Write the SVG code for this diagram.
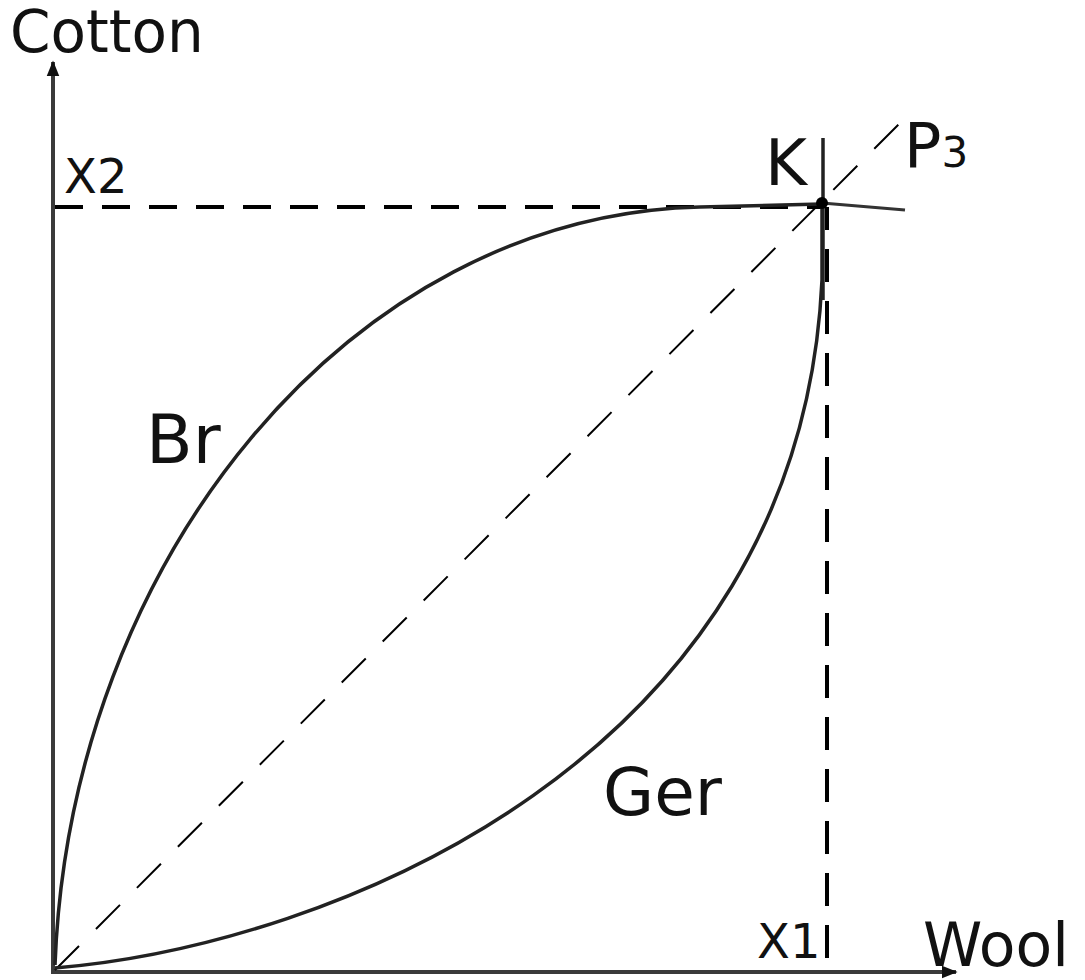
<svg xmlns="http://www.w3.org/2000/svg" width="1085" height="980" viewBox="0 0 1085 980">
<defs>
<style>
.lbl{font-family:"DejaVu Sans","Liberation Sans",sans-serif;fill:#111;}
.axis{stroke:#3a3a3a;stroke-width:4;fill:none;}
.dash{stroke:#000;stroke-width:4;fill:none;}
.curve{stroke:#222;stroke-width:3.5;fill:none;}
</style>
<marker id="arr" viewBox="0 0 10 10" refX="9" refY="5" markerWidth="4" markerHeight="5" orient="auto" markerUnits="strokeWidth">
<path d="M0,1 L10,5 L0,9 z" fill="#111"/>
</marker>
</defs>
<rect width="1085" height="980" fill="#fff"/>
<g id="axes">
<line class="axis" x1="53" y1="972" x2="53" y2="62" marker-end="url(#arr)"/>
<line class="axis" x1="51" y1="972" x2="956" y2="972" marker-end="url(#arr)"/>
</g>
<g id="guides">
<line class="dash" x1="55" y1="207" x2="822" y2="207" stroke-dasharray="28 19"/>
<line class="dash" x1="827" y1="207" x2="827" y2="972" stroke-dasharray="33 19" stroke-dashoffset="10"/>
<line x1="55" y1="970" x2="900" y2="123" stroke="#000" stroke-width="2" stroke-dasharray="34 24"/>
</g>
<g id="connectors">
<path id="br-curve" class="curve" d="M55,965 C70,560 350,215 700,207 L822,204"/>
<path id="ger-curve" class="curve" d="M55,968 C330,945 800,760 822,280 L822,204"/>
<line x1="823" y1="138" x2="823" y2="300" stroke="#222" stroke-width="3.5"/>
<line x1="822" y1="203" x2="905" y2="210" stroke="#333" stroke-width="3"/>
<circle cx="822" cy="203" r="6" fill="#000"/>
</g>
<g id="label-cotton"><text class="lbl" x="10" y="52" font-size="58">Cotton</text></g>
<g id="label-wool"><text class="lbl" x="923" y="966" font-size="60">Wool</text></g>
<g id="label-x2"><text class="lbl" x="64" y="193" font-size="48">X2</text></g>
<g id="label-x1"><text class="lbl" x="757" y="958" font-size="48">X1</text></g>
<g id="label-k"><text class="lbl" x="765" y="185" font-size="64">K</text></g>
<g id="label-p3"><text class="lbl" x="904" y="167" font-size="62">P<tspan font-size="42">3</tspan></text></g>
<g id="label-br"><text class="lbl" x="146" y="463" font-size="68">Br</text></g>
<g id="label-ger"><text class="lbl" x="603" y="815" font-size="66">Ger</text></g>
</svg>
